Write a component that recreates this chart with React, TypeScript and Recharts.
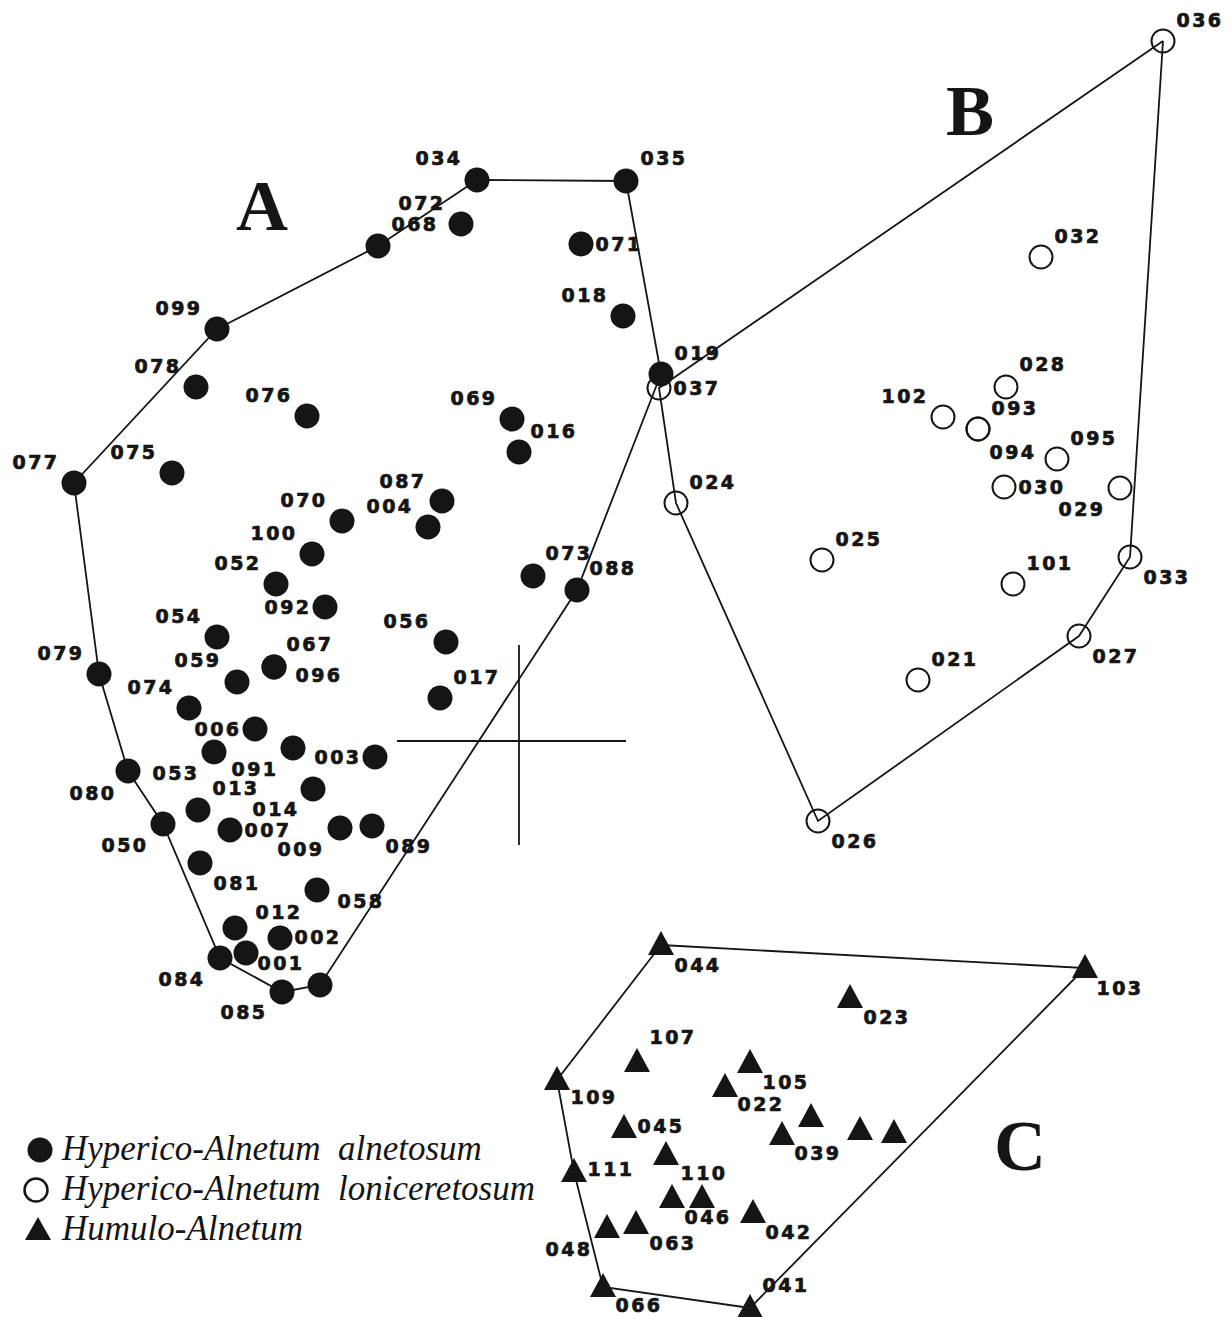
import React from 'react';
import { ScatterChart, Scatter, XAxis, YAxis, ReferenceLine } from 'recharts';

// ordination scores (x to the right, y downwards)
const alnetosum: [string, number, number][] = [
  ['034', 477, 180], ['035', 626, 181], ['072', 461, 224], ['068', 378, 246],
  ['071', 581, 244], ['018', 623, 316], ['019', 661, 374], ['099', 217, 329],
  ['078', 196, 387], ['076', 307, 416], ['069', 512, 419], ['016', 519, 452],
  ['077', 74, 483], ['075', 172, 473], ['087', 442, 501], ['004', 428, 527],
  ['070', 342, 521], ['100', 312, 554], ['052', 276, 584], ['092', 325, 607],
  ['073', 533, 576], ['088', 577, 590], ['054', 217, 637], ['056', 446, 642],
  ['067', 274, 667], ['096', 274, 667], ['059', 237, 682], ['079', 99, 674],
  ['074', 189, 708], ['017', 440, 698], ['006', 255, 729], ['053', 214, 752],
  ['091', 293, 748], ['003', 375, 757], ['080', 128, 771], ['013', 198, 810],
  ['014', 313, 789], ['050', 163, 824], ['007', 230, 830], ['009', 340, 828],
  ['089', 372, 826], ['081', 200, 863], ['058', 317, 890], ['012', 235, 928],
  ['002', 280, 938], ['001', 246, 953], ['084', 220, 958], ['085', 282, 992],
  ['_a1', 320, 985],
];

const loniceretosum: [string, number, number][] = [
  ['036', 1163, 41], ['032', 1041, 257], ['028', 1006, 387], ['102', 943, 417],
  ['093', 978, 429], ['094', 978, 429], ['095', 1057, 459], ['030', 1004, 487],
  ['029', 1120, 488], ['037', 659, 388], ['024', 676, 503], ['025', 822, 560],
  ['101', 1013, 584], ['033', 1130, 557], ['027', 1079, 636], ['021', 918, 680],
  ['026', 818, 821],
];

const humulo: [string, number, number][] = [
  ['044', 661, 945], ['103', 1085, 968], ['023', 850, 998], ['107', 637, 1062],
  ['105', 750, 1063], ['022', 725, 1087], ['109', 557, 1080], ['045', 624, 1128],
  ['_c1', 811, 1117], ['039', 782, 1135], ['_c2', 860, 1130], ['_c3', 894, 1133],
  ['110', 666, 1155], ['111', 574, 1172], ['046', 672, 1198], ['_c4', 702, 1198],
  ['042', 753, 1213], ['048', 607, 1228], ['063', 636, 1224], ['066', 603, 1287],
  ['041', 750, 1308],
];

// outer relevés of each group, in drawing order
const hullA = ['034', '035', '019', '088', '_a1', '085', '084', '050', '080', '079', '077', '099', '068', '034'];
const hullB = ['036', '037', '024', '026', '027', '033', '036'];
const hullC = ['044', '103', '041', '066', '111', '109', '044'];

// origin cross of the axes
const cross = { x: 519, y: 741, left: 397, right: 626, top: 645, bottom: 845 };

const groupLetters = [
  { id: 'A', x: 262, y: 230 },
  { id: 'B', x: 970, y: 135 },
  { id: 'C', x: 1020, y: 1170 },
];

const legendItems = [
  'Hyperico-Alnetum\u00a0\u00a0alnetosum',
  'Hyperico-Alnetum\u00a0\u00a0loniceretosum',
  'Humulo-Alnetum',
];

// where each relevé number sits relative to its symbol
const NW: [number, number] = [-39, -21];
const NE: [number, number] = [36, -21];
const SW: [number, number] = [-39, 21];
const SE: [number, number] = [36, 20];
const W: [number, number] = [-38, 0];
const E: [number, number] = [37, 0];
const labelPos: Record<string, [number, number]> = {
  '034': [-39, -22], '035': [37, -23], '072': [-40, -21], '068': [36, -22], '071': E,
  '018': NW, '019': NE, '099': NW, '078': NW, '076': NW, '069': NW, '016': [34, -21],
  '077': NW, '075': NW, '087': [-40, -20], '004': NW, '070': NW, '100': NW, '052': NW,
  '092': W, '073': [35, -23], '088': [35, -22], '054': NW, '056': [-40, -21],
  '067': [35, -23], '096': [44, 8], '059': [-40, -22], '079': NW, '074': NW, '017': NE,
  '006': W, '053': SW, '091': SW, '003': W, '080': [-36, 22], '013': [37, -22],
  '014': [-38, 20], '050': SW, '007': E, '009': [-40, 21], '089': SE, '081': SE,
  '058': [43, 11], '012': [43, -16], '002': [37, -1], '001': [34, 10], '084': SW,
  '085': [-39, 20],
  '036': NE, '032': NE, '028': [36, -23], '102': NW, '093': NE, '094': [34, 23],
  '095': NE, '030': E, '029': SW, '037': E, '024': NE, '025': NE, '101': NE,
  '033': SE, '027': SE, '021': NE, '026': SE,
  '044': SE, '103': [34, 20], '023': [36, 19], '107': [35, -25], '105': [35, 19],
  '022': [35, 17], '109': [36, 17], '045': [36, -2], '039': [35, 18], '110': [37, 18],
  '111': [36, -3], '046': [35, 19], '042': [35, 19], '048': SW, '063': [36, 19],
  '066': [35, 18], '041': [35, -23],
};

const toRows = (pts: [string, number, number][]) => pts.map(([id, x, y]) => ({ id, x, y }));
const hullRows = (ids: string[], pts: [string, number, number][]) =>
  ids.map((id) => {
    const p = pts.find((q) => q[0] === id)!;
    return { id, x: p[1], y: p[2] };
  });

const INK = '#151515';
const LABEL_FONT = '"DejaVu Sans", Verdana, sans-serif';
const SERIF = '"Liberation Serif", "Times New Roman", serif';

const Num = ({ cx, cy, id }: { cx: number; cy: number; id: string }) => {
  if (id.startsWith('_')) return null;
  const [dx, dy] = labelPos[id] || [36, 0];
  return (
    <text
      x={cx + dx + 1}
      y={cy + dy}
      textAnchor="middle"
      dominantBaseline="central"
      fontFamily={LABEL_FONT}
      fontWeight={700}
      fontSize={19}
      letterSpacing={2.5}
      fill={INK}
      stroke={INK}
      strokeWidth={0.7}
    >
      {id}
    </text>
  );
};

const filledDot = (p: any) => (
  <g>
    <circle cx={p.cx} cy={p.cy} r={12.5} fill={INK} />
    <Num cx={p.cx} cy={p.cy} id={p.payload.id} />
  </g>
);

const openDot = (p: any) => (
  <g>
    <circle cx={p.cx} cy={p.cy} r={11.5} fill="none" stroke={INK} strokeWidth={2} />
    <Num cx={p.cx} cy={p.cy} id={p.payload.id} />
  </g>
);

const triangle = (p: any) => (
  <g>
    <path d={`M${p.cx},${p.cy - 14} L${p.cx + 13},${p.cy + 10} L${p.cx - 13},${p.cy + 10} Z`} fill={INK} />
    <Num cx={p.cx} cy={p.cy} id={p.payload.id} />
  </g>
);

const letter = (p: any) => (
  <text x={p.cx} y={p.cy} textAnchor="middle" fontFamily={SERIF} fontWeight={700} fontSize={72} fill={INK}>
    {p.payload.id}
  </text>
);

const noSymbol = () => <g />;
const hullLine = { stroke: INK, strokeWidth: 1.8 };

export default function App() {
  return (
    <div style={{ position: 'relative', width: 1232, height: 1317, background: '#fff' }}>
      <style>{'body{margin:0}'}</style>
      <ScatterChart width={1232} height={1317} margin={{ top: 0, right: 0, bottom: 0, left: 0 }}>
        <XAxis type="number" dataKey="x" domain={[0, 1232]} allowDataOverflow hide />
        <YAxis type="number" dataKey="y" domain={[0, 1317]} allowDataOverflow reversed hide />
        <ReferenceLine segment={[{ x: cross.left, y: cross.y }, { x: cross.right, y: cross.y }]} stroke={INK} strokeWidth={1.8} />
        <ReferenceLine segment={[{ x: cross.x, y: cross.top }, { x: cross.x, y: cross.bottom }]} stroke={INK} strokeWidth={1.8} />
        <Scatter data={hullRows(hullA, alnetosum)} line={hullLine} shape={noSymbol} isAnimationActive={false} />
        <Scatter data={hullRows(hullB, loniceretosum)} line={hullLine} shape={noSymbol} isAnimationActive={false} />
        <Scatter data={hullRows(hullC, humulo)} line={hullLine} shape={noSymbol} isAnimationActive={false} />
        <Scatter data={toRows(alnetosum)} shape={filledDot} isAnimationActive={false} />
        <Scatter data={toRows(loniceretosum)} shape={openDot} isAnimationActive={false} />
        <Scatter data={toRows(humulo)} shape={triangle} isAnimationActive={false} />
        <Scatter data={groupLetters} shape={letter} isAnimationActive={false} />
      </ScatterChart>
      <svg width={560} height={140} style={{ position: 'absolute', left: 0, top: 1120 }}>
        <circle cx={40} cy={30} r={12.5} fill={INK} />
        <circle cx={36} cy={70} r={11.5} fill="none" stroke={INK} strokeWidth={2.5} />
        <path d="M38,97 L51,120 L25,120 Z" fill={INK} />
        {legendItems.map((t, i) => (
          <text key={t} x={62} y={40 + i * 40} fontFamily={SERIF} fontStyle="italic" fontSize={35} fill={INK}>
            {t}
          </text>
        ))}
      </svg>
    </div>
  );
}
